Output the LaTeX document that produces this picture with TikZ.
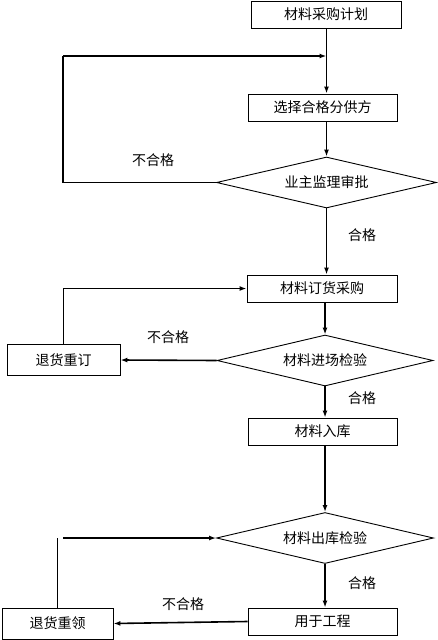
\documentclass[tikz,border=0pt]{standalone}
\usepackage{fontspec}
\newfontfamily\cjk{Noto Sans CJK SC}
\usetikzlibrary{shapes.geometric,arrows.meta}
\begin{document}
\begin{tikzpicture}[x=1pt,y=-1pt,
  font=\cjk\fontsize{14}{16}\selectfont,
  box/.style={draw,line width=0.9pt,rectangle,inner sep=0pt,minimum width=#1,minimum height=27pt},
  dia/.style={draw,line width=0.9pt,diamond,inner sep=0pt,aspect=4.3,minimum width=#1,minimum height=51pt},
  conn/.style={line width=1.6pt,-{Latex[length=7pt,width=5pt]}},
  lbl/.style={inner sep=0pt}]
\useasboundingbox (0,0) rectangle (438,640);
\node[box=150pt] (plan) at (326,14.5) {材料采购计划};
\node[box=149pt] (sup) at (322.5,107.5) {选择合格分供方};
\node[dia=220pt] (d1) at (326.5,182.5) {业主监理审批};
\node[box=150pt] (order) at (322,288.5) {材料订货采购};
\node[dia=216pt] (d2) at (325,360.5) {材料进场检验};
\node[box=113pt,minimum height=31.5pt] (ret1) at (63.5,360) {退货重订};
\node[box=149pt] (store) at (322.5,431.5) {材料入库};
\node[dia=217pt] (d3) at (325,538) {材料出库检验};
\node[box=149pt] (use) at (322.5,621.5) {用于工程};
\node[box=111pt,minimum height=31pt] (ret2) at (57.5,623.5) {退货重领};

\coordinate (fb1) at (63,56);
\coordinate (fb3) at (63,538);

\draw[conn] (plan.south -| d1.north) -- (sup.north -| d1.north);
\draw[line width=1.2pt] (d1.west) -| (fb1);
\draw[conn] (fb1) -- (fb1 -| d1.north);
\draw[conn] (sup.south -| d1.north) -- (d1.north);
\draw[conn] (d1.south) -- (order.north -| d1.south);
\draw[conn] (order.south -| d2.north) -- (d2.north);
\draw[conn] (d2.west) -- (ret1.east);
\draw[conn] (ret1.north) |- (order.west);
\draw[conn] (d2.south) -- (store.north -| d2.south);
\draw[conn] (store.south -| d3.north) -- (d3.north);
\draw[conn] (d3.south) -- (use.north -| d3.south);
\draw[conn] (use.west) -- (ret2.east);
\draw[line width=0.9pt] (ret2.north) -- (ret2.north |- fb3);
\draw[conn] (fb3) -- (d3.west);

\node[lbl] (n1) at (153,160) {不合格};
\node[lbl] (n2) at (168,337) {不合格};
\node[lbl] (n3) at (183,604) {不合格};
\node[lbl] (y1) at (362,235) {合格};
\node[lbl] (y2) at (362,398) {合格};
\node[lbl] (y3) at (362,583) {合格};
\end{tikzpicture}
\end{document}
